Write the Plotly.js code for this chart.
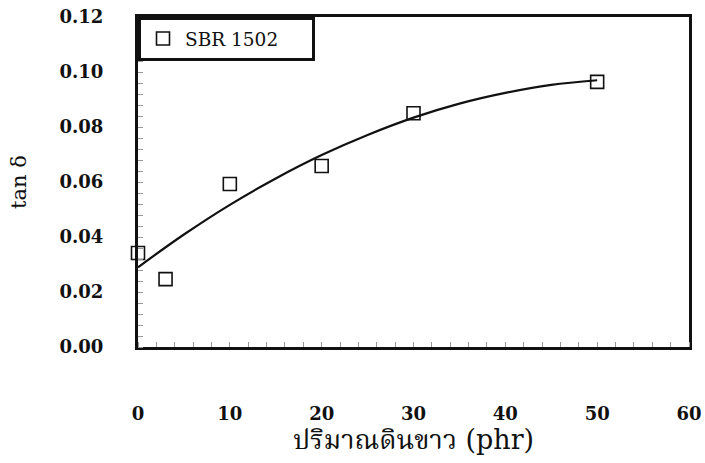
<!DOCTYPE html>
<html><head><meta charset="utf-8">
<script src="https://cdn.plot.ly/plotly-3.0.1.min.js"></script>
<style>body{margin:0;background:#fff}#c{width:705px;height:463px}</style>
</head><body><div id="c"></div>
<script>
const clayPhr = [0, 3, 10, 20, 30, 50];
const tanDelta = [0.0342, 0.0247, 0.0593, 0.0658, 0.0850, 0.0964];
const fitX = [0, 5, 10, 15, 20, 25, 30, 35, 40, 45, 50];
const fitY = [0.0290, 0.0409, 0.0517, 0.0613, 0.0698, 0.0771, 0.0834, 0.0885, 0.0924, 0.0953, 0.0970];
const xTicks = [0, 10, 20, 30, 40, 50, 60];
const yTicks = [0, 0.02, 0.04, 0.06, 0.08, 0.10, 0.12];
const yTickText = ['0.00','0.02','0.04','0.06','0.08','0.10','0.12'];

const serif = 'DejaVu Serif, Liberation Serif, serif';
const data = [
  {x: fitX, y: fitY, mode: 'lines', line: {color: '#111', width: 2.2, shape: 'spline'}, showlegend: false, hoverinfo: 'skip'},
  {x: clayPhr, y: tanDelta, mode: 'markers', name: 'SBR 1502', cliponaxis: false,
   marker: {symbol: 'square-open', size: 13, color: '#111', line: {width: 1.6, color: '#111'}}}
];
const layout = {
  width: 705, height: 463,
  margin: {l: 138, r: 16, t: 17, b: 116},
  paper_bgcolor: '#fff', plot_bgcolor: '#fff',
  showlegend: true,
  legend: {x: 0, y: 1, xanchor: 'left', yanchor: 'top', bgcolor: '#fff', bordercolor: '#111', borderwidth: 3,
    orientation: 'h', entrywidth: 122, tracegroupgap: 0,
    font: {family: serif, size: 18.5, color: '#111'}, itemwidth: 34},
  xaxis: {range: [0, 60], tickvals: xTicks, ticks: '', showgrid: false, zeroline: false,
    showline: true, linecolor: '#111', linewidth: 3, mirror: true,
    ticklabelstandoff: 48,
    tickfont: {family: serif, size: 18, color: '#111', weight: 'bold'},
    minor: {dtick: 2, ticks: 'inside', ticklen: 5, tickcolor: '#999', tickwidth: 1},
    title: {text: 'ปริมาณดินขาว (phr)', font: {family: 'DejaVu Serif, Noto Serif Thai, Noto Sans Thai, serif', size: 27, color: '#111'}, standoff: 2}},
  yaxis: {range: [0, 0.12], tickvals: yTicks, ticktext: yTickText, ticks: '', showgrid: false, zeroline: false,
    showline: true, linecolor: '#111', linewidth: 3, mirror: true,
    ticklabelstandoff: 28,
    tickfont: {family: serif, size: 18, color: '#111', weight: 'bold'},
    minor: {dtick: 0.004, ticks: 'inside', ticklen: 5, tickcolor: '#999', tickwidth: 1},
    title: {text: 'tan δ', font: {family: serif, size: 21, color: '#111'}, standoff: 28}}
};
Plotly.newPlot('c', data, layout, {displayModeBar: false, staticPlot: true});
</script></body></html>
